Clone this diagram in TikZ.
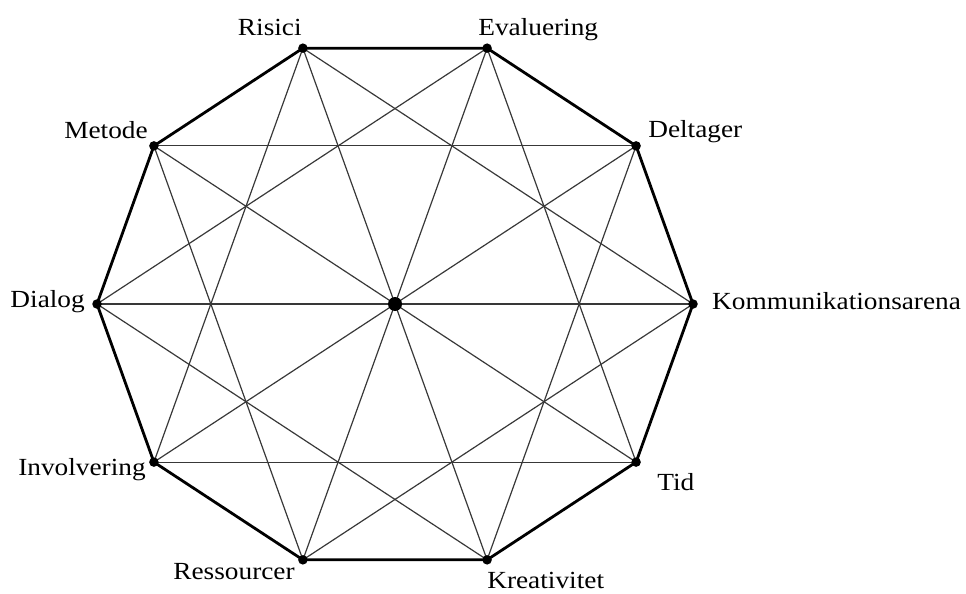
\documentclass[tikz,border=0pt]{standalone}
\usepackage{fontspec}
\setmainfont{Liberation Serif}
\usepackage{tikz}
\usetikzlibrary{calc}
\tikzset{
  hjorne/.style={circle,fill=black,inner sep=0pt,minimum size=9.5pt},
  midte/.style={circle,fill=black,inner sep=0pt,minimum size=14pt},
  kant/.style={draw=black,line width=2.8pt,line join=round},
  streg/.style={draw=black!78,line width=1.2pt},
  navn/.style={font=\fontsize{24.6}{29}\selectfont,inner sep=0pt,xscale=1.11}
}
\begin{document}
\begin{tikzpicture}[x=1pt,y=-1pt]
  \useasboundingbox (0,0) rectangle (966,594);
  % hjoerner af tikanten
  \foreach \i in {0,...,9}
    \coordinate (v\i) at ({395+298*cos(36*\i)},{304-269*sin(36*\i)});
  \coordinate (c) at (395,304);
  % tynde streger
  \foreach \i in {0,...,9}{
    \pgfmathtruncatemacro\j{mod(\i+3,10)}
    \draw[streg] (v\i) -- (v\j);
  }
  \foreach \i in {0,...,4}{
    \pgfmathtruncatemacro\j{\i+5}
    \draw[streg] (v\i) -- (v\j);
  }
  % kanter
  \draw[kant] (v0) -- (v1) -- (v2) -- (v3) -- (v4) -- (v5) -- (v6) -- (v7) -- (v8) -- (v9) -- cycle;
  \foreach \i in {0,...,9}
    \node[hjorne] (d\i) at (v\i) {};
  \node[midte] (m) at (c) {};
  % navne
  \node[navn,anchor=base west] (komm) at ($(v0)+(19,5)$) {Kommunikationsarena};
  \node[navn,anchor=base west] (delt) at ($(v1)+(12,-8)$) {Deltager};
  \node[navn,anchor=base west] (eval) at ($(v2)+(-9,-13)$) {Evaluering};
  \node[navn,anchor=base east] (risi) at ($(v3)+(-1,-13)$) {Risici};
  \node[navn,anchor=base east] (meto) at ($(v4)+(-6,-7)$) {Metode};
  \node[navn,anchor=base east] (dial) at ($(v5)+(-12,3)$) {Dialog};
  \node[navn,anchor=base east] (invo) at ($(v6)+(-8,13)$) {Involvering};
  \node[navn,anchor=base east] (ress) at ($(v7)+(-8,20)$) {Ressourcer};
  \node[navn,anchor=base west] (krea) at ($(v8)+(0,29)$) {Kreativitet};
  \node[navn,anchor=base west] (tid) at ($(v9)+(21,28)$) {Tid};
\end{tikzpicture}
\end{document}
